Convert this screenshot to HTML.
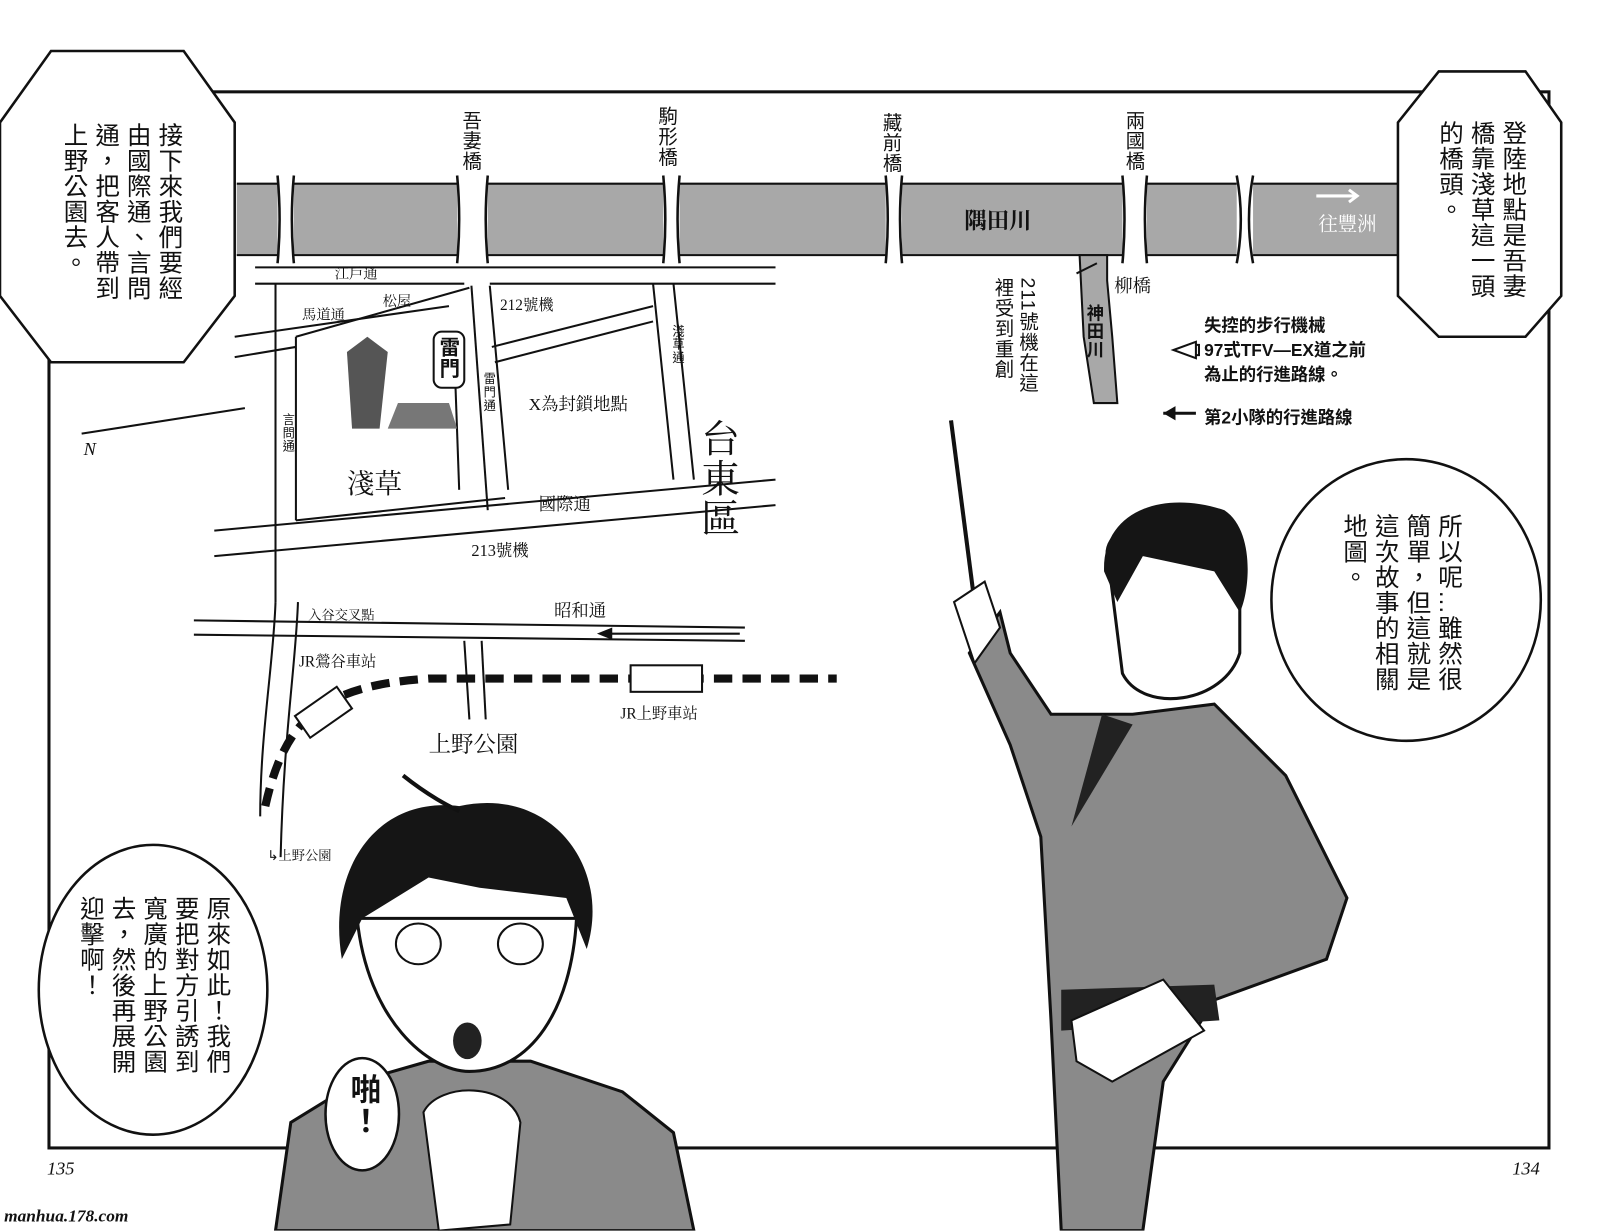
<!DOCTYPE html>
<html><head><meta charset="utf-8">
<style>
html,body{margin:0;padding:0;background:#fff;overflow:hidden}
#wrap{position:relative;width:1568px;height:1206px;transform:scale(1.0204);transform-origin:0 0;font-family:"Liberation Sans","Noto Sans CJK TC",sans-serif;color:#111}
.v{position:absolute;writing-mode:vertical-rl;font-family:"Liberation Sans","Noto Sans CJK TC",sans-serif;line-height:1.12;letter-spacing:1px;white-space:nowrap}
.b{font-size:24px;line-height:31px;letter-spacing:1px}
.h{position:absolute;white-space:nowrap;font-family:"Liberation Serif","Noto Serif CJK SC","Noto Sans CJK TC",serif}
svg{position:absolute;left:0;top:0}
</style></head><body><div id="wrap">
<svg width="1568" height="1206" viewBox="0 0 1568 1206">
<rect x="0" y="0" width="1568" height="1206" fill="#fff"/>
<rect x="48" y="90" width="1470" height="1035" fill="none" stroke="#111" stroke-width="3"/>
<rect x="232" y="180" width="1140" height="70" fill="#a8a8a8"/>
<line x1="232" y1="180" x2="1372" y2="180" stroke="#111" stroke-width="2"/>
<line x1="232" y1="250" x2="1372" y2="250" stroke="#111" stroke-width="2"/>
<g fill="#fff" stroke="none">
<rect x="272" y="176" width="16" height="78"/>
<rect x="448" y="176" width="30" height="78"/>
<rect x="650" y="176" width="16" height="78"/>
<rect x="868" y="176" width="16" height="78"/>
<rect x="1100" y="176" width="24" height="78"/>
<rect x="1212" y="176" width="16" height="78"/>
</g>
<g stroke="#111" stroke-width="2.5" fill="none">
<path d="M272 172 q4 43 0 86 M288 172 q-4 43 0 86"/>
<path d="M448 172 q4 43 0 86 M478 172 q-4 43 0 86"/>
<path d="M650 172 q4 43 0 86 M666 172 q-4 43 0 86"/>
<path d="M868 172 q4 43 0 86 M884 172 q-4 43 0 86"/>
<path d="M1100 172 q4 43 0 86 M1124 172 q-4 43 0 86"/>
<path d="M1212 172 q8 43 0 86 M1228 172 q-8 43 0 86"/>
</g>
<path d="M1058 250 L1085 250 L1085 275 L1090 330 L1095 395 L1072 395 L1062 330 Z" fill="#a8a8a8" stroke="#111" stroke-width="2"/>
<g stroke="#111" stroke-width="2" fill="none">
<line x1="250" y1="262" x2="760" y2="262"/><line x1="250" y1="278" x2="455" y2="278"/>
<line x1="480" y1="278" x2="760" y2="278"/>
<line x1="230" y1="330" x2="440" y2="300"/><line x1="230" y1="350" x2="290" y2="340"/>
<line x1="290" y1="330" x2="290" y2="510"/><line x1="270" y1="278" x2="270" y2="590"/>
<line x1="290" y1="330" x2="460" y2="282"/>
<line x1="290" y1="510" x2="495" y2="488"/>
<line x1="445" y1="340" x2="450" y2="480"/>
<line x1="462" y1="280" x2="478" y2="500"/><line x1="480" y1="280" x2="498" y2="480"/>
<line x1="482" y1="340" x2="640" y2="300"/><line x1="485" y1="355" x2="640" y2="315"/>
<line x1="640" y1="278" x2="660" y2="470"/><line x1="660" y1="278" x2="680" y2="470"/>
<line x1="210" y1="520" x2="760" y2="470"/><line x1="210" y1="545" x2="760" y2="495"/>
<line x1="190" y1="608" x2="730" y2="615"/><line x1="190" y1="622" x2="730" y2="628"/>
<path d="M270 590 C268 650 255 720 255 800"/><path d="M292 590 C290 650 278 720 275 840"/>
<line x1="455" y1="628" x2="460" y2="705"/><line x1="472" y1="628" x2="476" y2="705"/>
<line x1="80" y1="425" x2="240" y2="400"/>
</g>
<path d="M260 790 C280 700 320 672 420 665 L820 665" stroke="#111" stroke-width="8" fill="none" stroke-dasharray="18 10"/>
<rect x="618" y="652" width="70" height="26" fill="#fff" stroke="#111" stroke-width="2"/>
<rect x="292" y="685" width="50" height="26" fill="#fff" stroke="#111" stroke-width="2" transform="rotate(-35 317 698)"/>
<polygon points="340,345 360,330 380,345 372,420 345,420" fill="#555"/>
<path d="M380 420 L390 395 L440 395 L448 420 Z" fill="#777"/>
<rect x="425" y="325" width="30" height="55" rx="8" fill="#fff" stroke="#111" stroke-width="2"/>
<path d="M1150 343 L1172 335 L1172 351 Z M1172 338 L1175 338 L1175 348 L1172 348" fill="none" stroke="#111" stroke-width="2"/>
<line x1="1140" y1="405" x2="1172" y2="405" stroke="#111" stroke-width="3"/>
<path d="M1140 405 L1152 398 L1152 412 Z" fill="#111"/>
<line x1="590" y1="621" x2="725" y2="621" stroke="#111" stroke-width="2"/>
<path d="M585 621 L600 615 L600 627 Z" fill="#111"/>
<path d="M1290 192 L1330 192 M1322 186 L1330 192 L1322 198" stroke="#fff" stroke-width="3" fill="none"/>
<path d="M1055 268 L1075 258" stroke="#111" stroke-width="2"/>
<line x1="932" y1="412" x2="955" y2="590" stroke="#111" stroke-width="4"/>
<path d="M950 640 L980 600 L990 640 L1030 700 L1110 700 L1190 690 L1260 760 L1320 880 L1300 940 L1190 980 L1140 1060 L1120 1206 L1040 1206 L1030 1000 L1020 820 L990 730 Z" fill="#8a8a8a" stroke="#111" stroke-width="3"/>
<path d="M1040 970 L1190 965 L1195 1000 L1040 1010 Z" fill="#222"/>
<path d="M1050 1000 L1140 960 L1180 1010 L1090 1060 L1055 1040 Z" fill="#fff" stroke="#111" stroke-width="2"/>
<path d="M1085 540 C1090 500 1200 490 1215 540 L1215 640 C1200 690 1120 700 1100 660 Z" fill="#fff" stroke="#111" stroke-width="3"/>
<path d="M1082 560 C1080 500 1140 480 1200 500 C1230 520 1225 580 1215 600 L1190 560 L1120 545 L1095 590 Z" fill="#151515"/>
<path d="M1080 700 L1110 710 L1050 810 Z" fill="#222"/>
<path d="M935 590 L965 570 L980 615 L955 650 Z" fill="#fff" stroke="#111" stroke-width="2"/>
<path d="M270 1206 L285 1100 L350 1060 L420 1040 L520 1040 L610 1070 L660 1110 L680 1206 Z" fill="#8a8a8a" stroke="#111" stroke-width="3"/>
<path d="M350 900 C360 1000 420 1050 460 1050 C520 1050 560 990 565 900 Z" fill="#fff" stroke="#111" stroke-width="3"/>
<path d="M335 940 C320 850 370 780 450 790 C540 770 600 850 575 930 L555 880 L470 870 L420 860 L355 900 Z" fill="#151515"/>
<path d="M395 760 C420 780 440 790 450 795" stroke="#111" stroke-width="4" fill="none"/>
<ellipse cx="458" cy="1020" rx="14" ry="18" fill="#222"/>
<ellipse cx="410" cy="925" rx="22" ry="20" fill="#fff" stroke="#111" stroke-width="2"/>
<ellipse cx="510" cy="925" rx="22" ry="20" fill="#fff" stroke="#111" stroke-width="2"/>
<path d="M415 1090 C430 1060 500 1060 510 1100 L500 1200 L430 1206 Z" fill="#fff" stroke="#111" stroke-width="2"/>
<g fill="#fff" stroke="#111" stroke-width="2.5">
<polygon points="50,50 180,50 230,120 230,290 180,355 50,355 0,290 0,120"/>
<polygon points="1410,70 1495,70 1530,120 1530,290 1495,330 1410,330 1370,290 1370,120"/>
<ellipse cx="1378" cy="588" rx="132" ry="138"/>
<ellipse cx="150" cy="970" rx="112" ry="142"/>
<ellipse cx="355" cy="1092" rx="36" ry="55"/>
</g>
</svg>

<div class="v b" style="left:56px;top:120px">接下來我們要經<br>由國際通、言問<br>通，把客人帶到<br>上野公園去。</div>
<div class="v b" style="left:1404px;top:118px">登陸地點是吾妻<br>橋靠淺草這一頭<br>的橋頭。</div>
<div class="v b" style="left:1310px;top:503px">所以呢…雖然很<br>簡單，但這就是<br>這次故事的相關<br>地圖。</div>
<div class="v b" style="left:72px;top:878px">原來如此！我們<br>要把對方引誘到<br>寬廣的上野公園<br>去，然後再展開<br>迎擊啊！</div>
<div class="v" style="left:338px;top:1052px;font-size:30px;font-weight:bold">啪！</div>

<div class="v" style="left:450px;top:108px;font-size:19px">吾妻橋</div>
<div class="v" style="left:642px;top:104px;font-size:19px">駒形橋</div>
<div class="v" style="left:862px;top:110px;font-size:19px">藏前橋</div>
<div class="v" style="left:1100px;top:108px;font-size:19px">兩國橋</div>
<div class="v" style="left:970px;top:272px;font-size:19px;line-height:24px">211號機在這<br>裡受到重創</div>
<div class="v" style="left:1062px;top:298px;font-size:17px;font-weight:bold">神田川</div>
<div class="v" style="left:680px;top:410px;font-size:38px;font-family:'Liberation Serif','Noto Serif CJK SC',serif">台東區</div>
<div class="v" style="left:275px;top:405px;font-size:12px">言問通</div>
<div class="v" style="left:472px;top:365px;font-size:12px">雷門通</div>
<div class="v" style="left:657px;top:318px;font-size:12px">淺草通</div>
<div class="v" style="left:427px;top:330px;font-size:20px;font-weight:bold">雷門</div>

<div class="h" style="left:945px;top:200px;font-size:22px;font-weight:bold">隅田川</div>
<div class="h" style="left:1292px;top:205px;font-size:19px;color:#fff">往豐洲</div>
<div class="h" style="left:1092px;top:266px;font-size:18px">柳橋</div>
<div class="h" style="left:328px;top:258px;font-size:14px">江戶通</div>
<div class="h" style="left:375px;top:285px;font-size:14px">松屋</div>
<div class="h" style="left:296px;top:298px;font-size:14px">馬道通</div>
<div class="h" style="left:490px;top:288px;font-size:15px">212號機</div>
<div class="h" style="left:518px;top:382px;font-size:17px">X為封鎖地點</div>
<div class="h" style="left:340px;top:452px;font-size:27px">淺草</div>
<div class="h" style="left:528px;top:480px;font-size:17px">國際通</div>
<div class="h" style="left:462px;top:527px;font-size:16px">213號機</div>
<div class="h" style="left:543px;top:584px;font-size:17px">昭和通</div>
<div class="h" style="left:302px;top:592px;font-size:13px">入谷交叉點</div>
<div class="h" style="left:293px;top:637px;font-size:15px">JR鶯谷車站</div>
<div class="h" style="left:608px;top:688px;font-size:15px">JR上野車站</div>
<div class="h" style="left:420px;top:713px;font-size:22px">上野公園</div>
<div class="h" style="left:262px;top:828px;font-size:13px">↳上野公園</div>
<div class="h" style="left:82px;top:430px;font-size:18px;font-style:italic">N</div>
<div class="h" style="left:1180px;top:308px;font-size:17px;font-family:'Liberation Sans','Noto Sans CJK TC',sans-serif;line-height:1.4;font-weight:bold">失控的步行機械<br>97式TFV—EX道之前<br>為止的行進路線。</div>
<div class="h" style="left:1180px;top:395px;font-size:17px;font-family:'Liberation Sans','Noto Sans CJK TC',sans-serif;font-weight:bold">第2小隊的行進路線</div>
<div class="h" style="left:46px;top:1135px;font-size:18px;font-style:italic">135</div>
<div class="h" style="left:1482px;top:1135px;font-size:18px;font-style:italic">134</div>
<div class="h" style="left:4px;top:1182px;font-size:17px;font-style:italic;font-weight:bold">manhua.178.com</div>
</div></body></html>
